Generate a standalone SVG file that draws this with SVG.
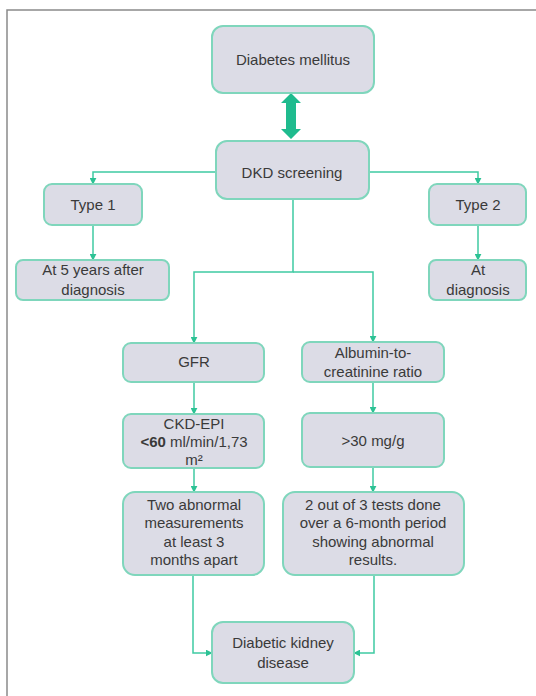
<svg xmlns="http://www.w3.org/2000/svg" width="536" height="696" viewBox="0 0 536 696">
<defs>
<marker id="ah" viewBox="0 0 10 10" refX="9" refY="5" markerWidth="7" markerHeight="7" markerUnits="userSpaceOnUse" orient="auto">
<path d="M0,0 L10,5 L0,10 z" fill="#2cc294"/>
</marker>
<style>
.box{fill:#dcdce6;stroke:#7fd6bc;stroke-width:2}
.t{font-family:"Liberation Sans",Arial,sans-serif;font-size:15px;fill:#3a3a3a;text-anchor:middle}
.c{fill:none;stroke:#3fcaa2;stroke-width:1.5;marker-end:url(#ah)}
</style>
</defs>
<rect x="0" y="0" width="536" height="696" fill="#fff"/>
<path d="M7,700 L7,10 L540,10" fill="none" stroke="#8a8a8a" stroke-width="1.5"/>

<g id="connectors">
<polygon points="291,93 301,103 296,103 296,129 301,129 291,139 281,129 286,129 286,103 281,103" fill="#1fbb8e"/>
<path class="c" d="M216,172 L93,172 L93,184"/>
<path class="c" d="M369,172 L478,172 L478,184"/>
<path class="c" d="M93,225 L93,260"/>
<path class="c" d="M478,225 L478,260"/>
<path class="c" d="M293,199 L293,272 L194,272 L194,343"/>
<path class="c" d="M293,272 L373,272 L373,342"/>
<path class="c" d="M194,382 L194,414"/>
<path class="c" d="M373,382 L373,413"/>
<path class="c" d="M194,468 L194,492"/>
<path class="c" d="M373,467 L373,492"/>
<path class="c" d="M193,575 L193,653 L212,653"/>
<path class="c" d="M374,575 L374,653 L354,653"/>
</g>

<g id="diabetes"><rect class="box" x="212" y="26" width="162" height="67" rx="11"/><text class="t" x="293" y="65">Diabetes mellitus</text></g>
<g id="dkd"><rect class="box" x="216" y="141" width="153" height="58" rx="11"/><text class="t" x="292" y="178">DKD screening</text></g>
<g id="type1"><rect class="box" x="44" y="184" width="98" height="41" rx="8"/><text class="t" x="93" y="210">Type 1</text></g>
<g id="type2"><rect class="box" x="429" y="184" width="97" height="41" rx="8"/><text class="t" x="478" y="210">Type 2</text></g>
<g id="at5"><rect class="box" x="16" y="260" width="153" height="40" rx="7"/><text class="t" x="93" y="275">At 5 years after</text><text class="t" x="93" y="295">diagnosis</text></g>
<g id="atdiag"><rect class="box" x="429" y="260" width="97" height="40" rx="7"/><text class="t" x="478" y="275">At</text><text class="t" x="478" y="295">diagnosis</text></g>
<g id="gfr"><rect class="box" x="123" y="343" width="141" height="39" rx="8"/><text class="t" x="194" y="367">GFR</text></g>
<g id="acr"><rect class="box" x="302" y="342" width="142" height="40" rx="8"/><text class="t" x="373" y="358">Albumin-to-</text><text class="t" x="373" y="377">creatinine ratio</text></g>
<g id="ckd"><rect class="box" x="123" y="414" width="141" height="54" rx="8"/><text class="t" x="194" y="429">CKD-EPI</text><text class="t" x="194" y="447"><tspan font-weight="bold">&lt;60</tspan> ml/min/1,73</text><text class="t" x="194" y="465">m²</text></g>
<g id="gt30"><rect class="box" x="302" y="413" width="142" height="54" rx="8"/><text class="t" x="373" y="446">&gt;30 mg/g</text></g>
<g id="twoabn"><rect class="box" x="123" y="492" width="141" height="83" rx="12"/><text class="t" x="194" y="510">Two abnormal</text><text class="t" x="194" y="528">measurements</text><text class="t" x="194" y="547">at least 3</text><text class="t" x="194" y="565">months apart</text></g>
<g id="twoof3"><rect class="box" x="283" y="492" width="181" height="83" rx="12"/><text class="t" x="373" y="510">2 out of 3 tests done</text><text class="t" x="373" y="528">over a 6-month period</text><text class="t" x="373" y="547">showing abnormal</text><text class="t" x="373" y="565">results.</text></g>
<g id="dkdis"><rect class="box" x="212" y="622" width="142" height="61" rx="11"/><text class="t" x="283" y="648">Diabetic kidney</text><text class="t" x="283" y="668">disease</text></g>
</svg>
